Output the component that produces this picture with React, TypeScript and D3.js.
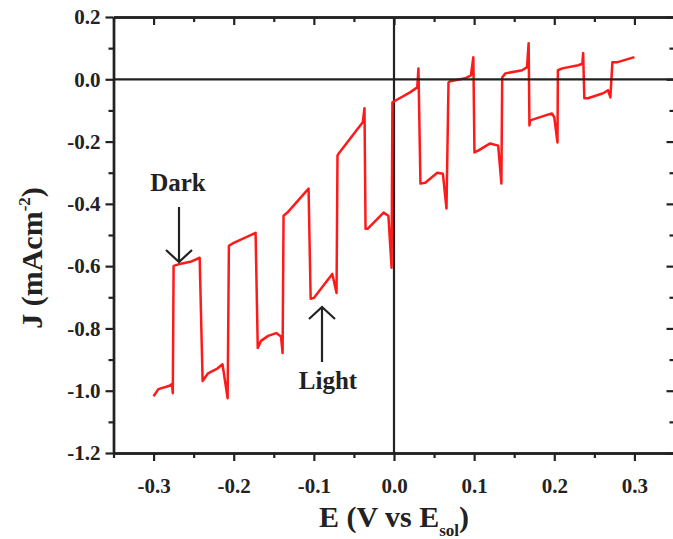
import React, { useEffect, useRef } from 'react';
import * as d3 from 'd3';

// chopped-light LSV
const potential = [
  -0.300, -0.294, -0.281, -0.277, -0.276, -0.275, -0.266, -0.254, -0.2425,
  -0.2388, -0.232, -0.220, -0.214, -0.2076, -0.206, -0.200, -0.1727,
  -0.170, -0.166, -0.157, -0.147, -0.141, -0.139, -0.1378, -0.133, -0.1066,
  -0.104, -0.100, -0.077, -0.0717, -0.0705, -0.069, -0.039, -0.0368,
  -0.0355, -0.033, -0.013, -0.007, -0.003, -0.002, 0.002, 0.020, 0.029, 0.0305,
  0.033, 0.039, 0.054, 0.061, 0.0655, 0.068, 0.070, 0.089, 0.096, 0.099,
  0.1004, 0.105, 0.120, 0.130, 0.134, 0.135, 0.139, 0.160, 0.166, 0.168,
  0.169, 0.170, 0.189, 0.197, 0.200, 0.204, 0.2045, 0.210, 0.230, 0.235, 0.236,
  0.2375, 0.242, 0.261, 0.267, 0.270, 0.2725, 0.279, 0.300,
];
const current = [
  -1.018, -0.995, -0.985, -0.979, -1.008, -0.599, -0.592, -0.586, -0.573,
  -0.969, -0.944, -0.928, -0.915, -1.024, -0.535, -0.525, -0.493,
  -0.863, -0.840, -0.824, -0.815, -0.826, -0.879, -0.438, -0.428, -0.351,
  -0.705, -0.702, -0.625, -0.686, -0.245, -0.238, -0.138, -0.093,
  -0.480, -0.480, -0.428, -0.438, -0.605, -0.074, -0.068, -0.042, -0.026, 0.035,
  -0.335, -0.332, -0.300, -0.303, -0.415, -0.010, -0.006, 0.003, 0.013, 0.071,
  -0.235, -0.229, -0.206, -0.213, -0.335, 0.006, 0.019, 0.029, 0.039, 0.116,
  -0.148, -0.132, -0.116, -0.110, -0.122, -0.203, 0.029, 0.035, 0.045, 0.050, 0.084,
  -0.061, -0.061, -0.045, -0.035, -0.058, 0.055, 0.055, 0.071,
];

const xTicks = [-0.3, -0.2, -0.1, 0.0, 0.1, 0.2, 0.3];
const xMinor = [-0.35, -0.25, -0.15, -0.05, 0.05, 0.15, 0.25, 0.35];
const yTicks = [0.2, 0.0, -0.2, -0.4, -0.6, -0.8, -1.0, -1.2];
const yMinor = [0.1, -0.1, -0.3, -0.5, -0.7, -0.9, -1.1];

const width = 673;
const height = 539;
const left = 113.5;
const right = 674.5;
const top = 17;
const bottom = 453;
const font = '"Liberation Serif", "Times New Roman", serif';
const ink = '#222';

function App() {
  const ref = useRef<SVGSVGElement>(null);

  useEffect(() => {
    const svg = d3.select(ref.current);
    svg.selectAll('*').remove();

    const x = d3.scaleLinear().domain([-0.35, 0.35]).range([left, right]);
    const y = d3.scaleLinear().domain([-1.2, 0.2]).range([bottom, top]);

    const fmt = (d: any) => (+d).toFixed(1);

    const style = (g: any) => {
      g.select('.domain').attr('stroke', ink).attr('stroke-width', 2.4);
      g.selectAll('.tick line').attr('stroke', ink).attr('stroke-width', 2.2);
      g.selectAll('.tick text')
        .attr('fill', ink)
        .attr('font-family', font)
        .attr('font-weight', 'bold')
        .attr('font-size', 21);
      g.attr('font-family', null).attr('font-size', null);
    };

    // zero lines
    svg.append('line')
      .attr('x1', x(0)).attr('x2', x(0))
      .attr('y1', top).attr('y2', bottom)
      .attr('stroke', ink).attr('stroke-width', 2.2);

    // curve
    const pts = potential.map((v, i) => [v, current[i]] as [number, number]);
    const line = d3.line<[number, number]>()
      .x(d => x(d[0]))
      .y(d => y(d[1]));
    svg.append('path')
      .datum(pts)
      .attr('d', line)
      .attr('fill', 'none')
      .attr('stroke', '#ff1a1a')
      .attr('stroke-width', 2.5)
      .attr('stroke-linejoin', 'round');

    svg.append('line')
      .attr('x1', left).attr('x2', right)
      .attr('y1', y(0)).attr('y2', y(0))
      .attr('stroke', ink).attr('stroke-width', 2.2);

    // bottom
    svg.append('g').attr('transform', `translate(0,${bottom})`)
      .call(d3.axisBottom(x).tickValues(xTicks).tickSize(8).tickSizeOuter(0)
        .tickPadding(17).tickFormat(fmt))
      .call(style);
    svg.append('g').attr('transform', `translate(0,${bottom})`)
      .call(d3.axisBottom(x).tickValues(xMinor).tickSize(5).tickSizeOuter(0).tickFormat(() => ''))
      .call(style);

    // top (ticks inward)
    svg.append('g').attr('transform', `translate(0,${top})`)
      .call(d3.axisBottom(x).tickValues(xTicks).tickSize(8).tickSizeOuter(0).tickFormat(() => ''))
      .call(style);
    svg.append('g').attr('transform', `translate(0,${top})`)
      .call(d3.axisBottom(x).tickValues(xMinor).tickSize(5).tickSizeOuter(0).tickFormat(() => ''))
      .call(style);

    // left
    svg.append('g').attr('transform', `translate(${left},0)`)
      .call(d3.axisLeft(y).tickValues(yTicks).tickSize(8).tickSizeOuter(0)
        .tickPadding(5).tickFormat(fmt))
      .call(style);
    svg.append('g').attr('transform', `translate(${left},0)`)
      .call(d3.axisLeft(y).tickValues(yMinor).tickSize(5).tickSizeOuter(0).tickFormat(() => ''))
      .call(style);

    // right (ticks inward)
    svg.append('g').attr('transform', `translate(${right},0)`)
      .call(d3.axisLeft(y).tickValues(yTicks).tickSize(8).tickSizeOuter(0).tickFormat(() => ''))
      .call(style);
    svg.append('g').attr('transform', `translate(${right},0)`)
      .call(d3.axisLeft(y).tickValues(yMinor).tickSize(5).tickSizeOuter(0).tickFormat(() => ''))
      .call(style);

    // axis titles
    const xt = svg.append('text')
      .attr('x', 394).attr('y', 527)
      .attr('text-anchor', 'middle')
      .attr('font-family', font).attr('font-weight', 'bold').attr('font-size', 30)
      .attr('fill', ink);
    xt.append('tspan').text('E (V vs E');
    xt.append('tspan').attr('dy', 9).attr('font-size', 17).text('sol');
    xt.append('tspan').attr('dy', -9).text(')');

    const yt = svg.append('text')
      .attr('transform', `translate(42,${258}) rotate(-90)`)
      .attr('text-anchor', 'middle')
      .attr('font-family', font).attr('font-weight', 'bold').attr('font-size', 30)
      .attr('fill', ink);
    yt.append('tspan').text('J (mAcm');
    yt.append('tspan').attr('dy', -12).attr('font-size', 17).text('-2');
    yt.append('tspan').attr('dy', 12).text(')');

    // annotations
    const note = (label: string, tx: number, ty: number, ax: number, y1: number, y2: number) => {
      svg.append('text')
        .attr('x', tx).attr('y', ty)
        .attr('text-anchor', 'middle')
        .attr('font-family', font).attr('font-weight', 'bold').attr('font-size', 25)
        .attr('fill', ink)
        .text(label);
      const dir = y2 > y1 ? -1 : 1;
      svg.append('line')
        .attr('x1', ax).attr('x2', ax).attr('y1', y1).attr('y2', y2)
        .attr('stroke', ink).attr('stroke-width', 2.2);
      svg.append('polyline')
        .attr('points', `${ax - 13},${y2 + dir * 12} ${ax},${y2} ${ax + 13},${y2 + dir * 12}`)
        .attr('fill', 'none').attr('stroke', ink).attr('stroke-width', 2.2);
    };
    note('Dark', 178, 191, 179, 207, 262);
    note('Light', 328, 389, 322, 362, 307);
  }, []);

  return (
    <svg
      ref={ref}
      width={width}
      height={height}
      style={{ position: 'absolute', left: 0, top: 0, background: '#fff' }}
    />
  );
}

export default App;
